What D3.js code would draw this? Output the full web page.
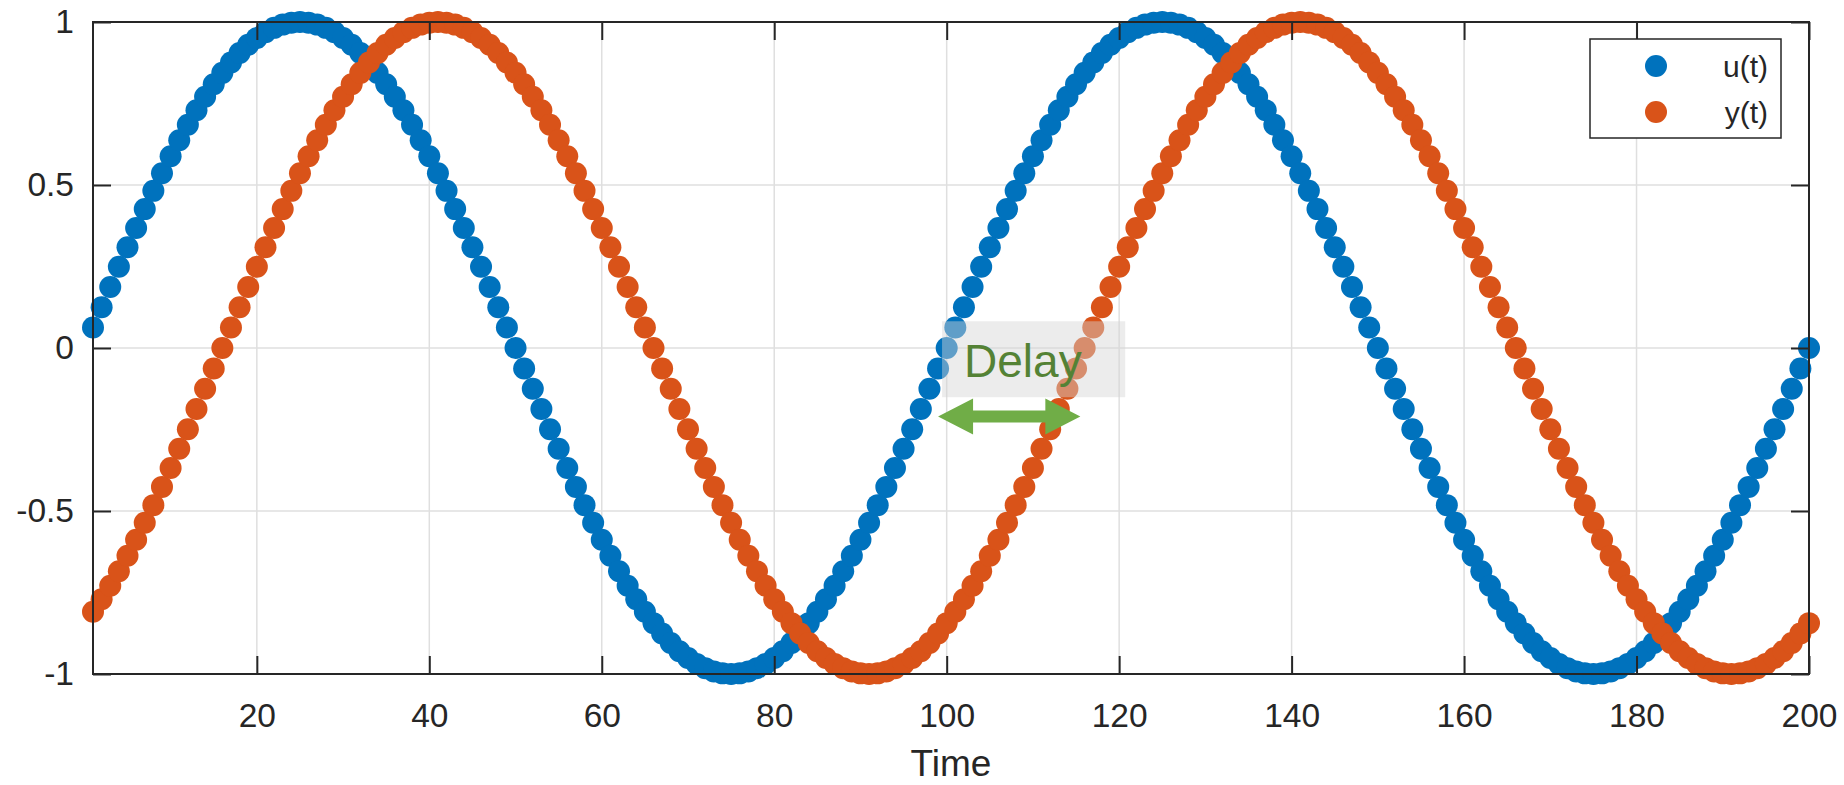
<!DOCTYPE html>
<html>
<head>
<meta charset="utf-8">
<script src="https://cdn.jsdelivr.net/npm/d3@7"></script>
<style>
    body { margin: 0; background: #fff; }
    svg text { font-family: "Liberation Sans", Arial, sans-serif; fill: #262626; }
</style>
</head>
<body>
<svg id="chart" width="1844" height="785"></svg>
<script>
// sample times 1..200
let time = d3.range(1, 201);

// u(t)
let uValues = [
    0.063, 0.125, 0.187, 0.249, 0.309, 0.368, 0.426, 0.482, 0.536, 0.588,
    0.637, 0.685, 0.729, 0.771, 0.809, 0.844, 0.876, 0.905, 0.930, 0.951,
    0.969, 0.982, 0.992, 0.998, 1.000, 0.998, 0.992, 0.982, 0.969, 0.951,
    0.930, 0.905, 0.876, 0.844, 0.809, 0.771, 0.729, 0.685, 0.637, 0.588,
    0.536, 0.482, 0.426, 0.368, 0.309, 0.249, 0.187, 0.125, 0.063, 0.000,
    -0.063, -0.125, -0.187, -0.249, -0.309, -0.368, -0.426, -0.482, -0.536, -0.588,
    -0.637, -0.685, -0.729, -0.771, -0.809, -0.844, -0.876, -0.905, -0.930, -0.951,
    -0.969, -0.982, -0.992, -0.998, -1.000, -0.998, -0.992, -0.982, -0.969, -0.951,
    -0.930, -0.905, -0.876, -0.844, -0.809, -0.771, -0.729, -0.685, -0.637, -0.588,
    -0.536, -0.482, -0.426, -0.368, -0.309, -0.249, -0.187, -0.125, -0.063, 0.000,
    0.063, 0.125, 0.187, 0.249, 0.309, 0.368, 0.426, 0.482, 0.536, 0.588,
    0.637, 0.685, 0.729, 0.771, 0.809, 0.844, 0.876, 0.905, 0.930, 0.951,
    0.969, 0.982, 0.992, 0.998, 1.000, 0.998, 0.992, 0.982, 0.969, 0.951,
    0.930, 0.905, 0.876, 0.844, 0.809, 0.771, 0.729, 0.685, 0.637, 0.588,
    0.536, 0.482, 0.426, 0.368, 0.309, 0.249, 0.187, 0.125, 0.063, 0.000,
    -0.063, -0.125, -0.187, -0.249, -0.309, -0.368, -0.426, -0.482, -0.536, -0.588,
    -0.637, -0.685, -0.729, -0.771, -0.809, -0.844, -0.876, -0.905, -0.930, -0.951,
    -0.969, -0.982, -0.992, -0.998, -1.000, -0.998, -0.992, -0.982, -0.969, -0.951,
    -0.930, -0.905, -0.876, -0.844, -0.809, -0.771, -0.729, -0.685, -0.637, -0.588,
    -0.536, -0.482, -0.426, -0.368, -0.309, -0.249, -0.187, -0.125, -0.063, 0.000
];

// y(t)
let yValues = [
    -0.809, -0.771, -0.729, -0.685, -0.637, -0.588, -0.536, -0.482, -0.426, -0.368,
    -0.309, -0.249, -0.187, -0.125, -0.063, 0.000, 0.063, 0.125, 0.187, 0.249,
    0.309, 0.368, 0.426, 0.482, 0.536, 0.588, 0.637, 0.685, 0.729, 0.771,
    0.809, 0.844, 0.876, 0.905, 0.930, 0.951, 0.969, 0.982, 0.992, 0.998,
    1.000, 0.998, 0.992, 0.982, 0.969, 0.951, 0.930, 0.905, 0.876, 0.844,
    0.809, 0.771, 0.729, 0.685, 0.637, 0.588, 0.536, 0.482, 0.426, 0.368,
    0.309, 0.249, 0.187, 0.125, 0.063, 0.000, -0.063, -0.125, -0.187, -0.249,
    -0.309, -0.368, -0.426, -0.482, -0.536, -0.588, -0.637, -0.685, -0.729, -0.771,
    -0.809, -0.844, -0.876, -0.905, -0.930, -0.951, -0.969, -0.982, -0.992, -0.998,
    -1.000, -0.998, -0.992, -0.982, -0.969, -0.951, -0.930, -0.905, -0.876, -0.844,
    -0.809, -0.771, -0.729, -0.685, -0.637, -0.588, -0.536, -0.482, -0.426, -0.368,
    -0.309, -0.249, -0.187, -0.125, -0.063, 0.000, 0.063, 0.125, 0.187, 0.249,
    0.309, 0.368, 0.426, 0.482, 0.536, 0.588, 0.637, 0.685, 0.729, 0.771,
    0.809, 0.844, 0.876, 0.905, 0.930, 0.951, 0.969, 0.982, 0.992, 0.998,
    1.000, 0.998, 0.992, 0.982, 0.969, 0.951, 0.930, 0.905, 0.876, 0.844,
    0.809, 0.771, 0.729, 0.685, 0.637, 0.588, 0.536, 0.482, 0.426, 0.368,
    0.309, 0.249, 0.187, 0.125, 0.063, 0.000, -0.063, -0.125, -0.187, -0.249,
    -0.309, -0.368, -0.426, -0.482, -0.536, -0.588, -0.637, -0.685, -0.729, -0.771,
    -0.809, -0.844, -0.876, -0.905, -0.930, -0.951, -0.969, -0.982, -0.992, -0.998,
    -1.000, -0.998, -0.992, -0.982, -0.969, -0.951, -0.930, -0.905, -0.876, -0.844
];

let seriesNames = ["u(t)", "y(t)"];
let seriesColors = ["#0072BD", "#D95319"];

let xTicks = [20, 40, 60, 80, 100, 120, 140, 160, 180, 200];
let yTicks = [-1, -0.5, 0, 0.5, 1];
let yTickLabels = ["-1", "-0.5", "0", "0.5", "1"];

// annotation: arrow span and label
let delayFrom = 99;
let delayTo = 115.5;
let delayLevel = -0.21;
let delayLabel = "Delay";

let svg = d3.select("#chart");

let plotLeft = 93, plotTop = 22, plotRight = 1809, plotBottom = 674;
let tickLen = 18;

let xScale = d3.scaleLinear().domain([1, 200]).range([plotLeft, plotRight]);
let yScale = d3.scaleLinear().domain([-1, 1]).range([plotBottom, plotTop]);

// grid
let grid = svg.append("g").attr("stroke", "#dfdfdf").attr("stroke-width", 1.5);
grid.selectAll(".gx").data(xTicks).enter().append("line")
    .attr("x1", d => xScale(d)).attr("x2", d => xScale(d))
    .attr("y1", plotTop).attr("y2", plotBottom);
grid.selectAll(".gy").data(yTicks).enter().append("line")
    .attr("x1", plotLeft).attr("x2", plotRight)
    .attr("y1", d => yScale(d)).attr("y2", d => yScale(d));

// markers, u first then y on top
let allSeries = [uValues, yValues];
allSeries.forEach(function (vals, s) {
    svg.append("g").selectAll("circle")
        .data(time)
        .enter().append("circle")
        .attr("cx", d => xScale(d))
        .attr("cy", (d, i) => yScale(vals[i]))
        .attr("r", 11)
        .attr("fill", seriesColors[s]);
});

// delay box + label + arrow
let boxX0 = xScale(delayFrom) + 4, boxX1 = xScale(delayTo + 5.2);
let boxY0 = yScale(0.082), boxY1 = yScale(-0.151);
svg.append("rect")
    .attr("x", boxX0).attr("y", boxY0)
    .attr("width", boxX1 - boxX0).attr("height", boxY1 - boxY0)
    .attr("fill", "rgb(212,212,212)").attr("fill-opacity", 0.45);

svg.append("text")
    .attr("x", boxX0 + 22).attr("y", boxY0 + 56)
    .style("font-size", "46px")
    .style("fill", "#548235")
    .text(delayLabel);

let ax0 = xScale(delayFrom), ax1 = xScale(delayTo), ay = yScale(delayLevel);
let headL = 35, headW = 18, shaftW = 6;
let arrowPts = [
    [ax0, ay], [ax0 + headL, ay - headW], [ax0 + headL, ay - shaftW],
    [ax1 - headL, ay - shaftW], [ax1 - headL, ay - headW], [ax1, ay],
    [ax1 - headL, ay + headW], [ax1 - headL, ay + shaftW],
    [ax0 + headL, ay + shaftW], [ax0 + headL, ay + headW]
];
svg.append("path")
    .attr("d", d3.line()(arrowPts) + "Z")
    .attr("fill", "#70AD47");

// axes (ticks pointing inward, mirrored on top/right)
let xAxis = d3.axisBottom(xScale).tickValues(xTicks).tickSizeInner(-tickLen).tickSizeOuter(0).tickPadding(29);
let yAxis = d3.axisLeft(yScale).tickValues(yTicks).tickSizeInner(-tickLen).tickSizeOuter(0).tickPadding(19)
    .tickFormat((d, i) => yTickLabels[i]);

let gx = svg.append("g").attr("transform", "translate(0," + plotBottom + ")").call(xAxis);
let gy = svg.append("g").attr("transform", "translate(" + plotLeft + ",0)").call(yAxis);
let gxTop = svg.append("g").attr("transform", "translate(0," + plotTop + ")")
    .call(d3.axisTop(xScale).tickValues(xTicks).tickSizeInner(-tickLen).tickSizeOuter(0).tickFormat(""));
let gyRight = svg.append("g").attr("transform", "translate(" + plotRight + ",0)")
    .call(d3.axisRight(yScale).tickValues(yTicks).tickSizeInner(-tickLen).tickSizeOuter(0).tickFormat(""));

[gx, gy, gxTop, gyRight].forEach(function (g) {
    g.attr("font-family", null).attr("font-size", null);
    g.select(".domain").remove();
    g.selectAll("line").attr("stroke", "#262626").attr("stroke-width", 2);
    g.selectAll("text").style("font-size", "33.5px").attr("fill", "#262626");
});

// frame
svg.append("rect")
    .attr("x", plotLeft).attr("y", plotTop)
    .attr("width", plotRight - plotLeft).attr("height", plotBottom - plotTop)
    .attr("fill", "none").attr("stroke", "#262626").attr("stroke-width", 2);

// x label
svg.append("text")
    .attr("x", (plotLeft + plotRight) / 2).attr("y", 776)
    .attr("text-anchor", "middle")
    .style("font-size", "37px")
    .text("Time");

// legend
let legend = svg.append("g");
legend.append("rect")
    .attr("x", 1590).attr("y", 39).attr("width", 191).attr("height", 99)
    .attr("fill", "#fff").attr("stroke", "#262626").attr("stroke-width", 1.5);
let entries = legend.selectAll(".entry").data(seriesNames).enter().append("g")
    .attr("transform", (d, i) => "translate(0," + (66 + i * 46) + ")");
entries.append("circle").attr("cx", 1656).attr("cy", 0).attr("r", 11)
    .attr("fill", (d, i) => seriesColors[i]);
entries.append("text").attr("x", 1768).attr("y", 11)
    .attr("text-anchor", "end")
    .style("font-size", "30px")
    .text(d => d);
</script>
</body>
</html>
